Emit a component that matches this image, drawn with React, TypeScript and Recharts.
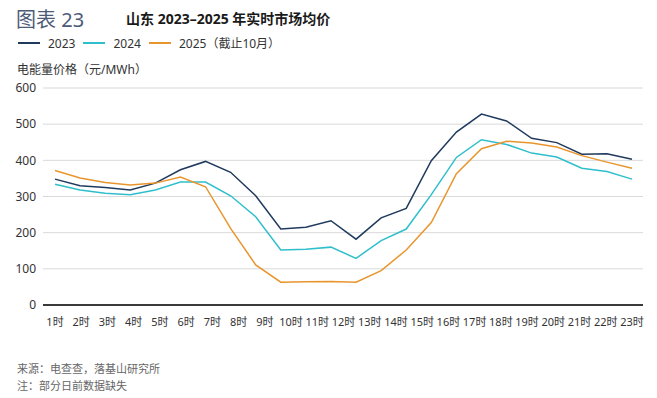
import { LineChart, Line, XAxis, YAxis, CartesianGrid } from "recharts";

const hourLabels = [
  "1时", "2时", "3时", "4时", "5时", "6时", "7时", "8时", "9时", "10时", "11时", "12时",
  "13时", "14时", "15时", "16时", "17时", "18时", "19时", "20时", "21时", "22时", "23时",
];

// 24 points per series (the chart only labels 23 hours)
const price2023 = [348, 330, 325, 318, 337, 374, 397, 367, 302, 210, 215, 233, 182, 241, 267, 399, 478, 528, 509, 461, 449, 417, 418, 403];
const price2024 = [334, 318, 309, 305, 318, 340, 340, 302, 244, 152, 154, 160, 129, 178, 210, 305, 408, 457, 444, 420, 409, 378, 369, 348];
const price2025 = [372, 351, 339, 332, 337, 354, 327, 212, 111, 63, 64, 65, 63, 95, 152, 228, 363, 432, 453, 448, 437, 413, 395, 378];

const yTicks = [0, 100, 200, 300, 400, 500, 600];

const data = price2023.map((v, i) => ({
  idx: i + 1,
  y2023: v,
  y2024: price2024[i],
  y2025: price2025[i],
}));

const n = price2023.length;
const xTicks = hourLabels.map((_, k) => 1 + (k * (n - 1)) / (hourLabels.length - 1));

const COLORS = { y2023: "#1f3a5e", y2024: "#2fbfcc", y2025: "#e8952e" };
const FONT = "'Noto Sans', 'Noto Sans CJK SC', sans-serif";

const legendItems = [
  { key: "y2023", label: "2023" },
  { key: "y2024", label: "2024" },
  { key: "y2025", label: "2025（截止10月）" },
];

export default function App() {
  return (
    <div style={{ position: "absolute", left: 0, top: 0, width: 657, height: 398, background: "#fff", fontFamily: FONT }}>
      <div style={{ position: "absolute", left: 16, top: 4, fontSize: 20, color: "#4d5b78", whiteSpace: "nowrap" }}>图表 23</div>
      <div style={{ position: "absolute", left: 126, top: 8, fontSize: 14, fontWeight: 700, color: "#1a1a1a", whiteSpace: "nowrap" }}>
        山东 2023–2025 年实时市场均价
      </div>
      <div style={{ position: "absolute", left: 18, top: 34, display: "flex", alignItems: "center", fontSize: 12, color: "#333" }}>
        {legendItems.map((it) => (
          <div key={it.key} style={{ display: "flex", alignItems: "center", marginRight: 8 }}>
            <div style={{ width: 22, height: 2, background: COLORS[it.key as keyof typeof COLORS], marginRight: 8 }} />
            <span>{it.label}</span>
          </div>
        ))}
      </div>
      <div style={{ position: "absolute", left: 17, top: 60, fontSize: 12, color: "#333", whiteSpace: "nowrap" }}>电能量价格（元/MWh）</div>

      <div style={{ position: "absolute", left: 0, top: 0 }}>
        <LineChart width={657} height={398} data={data} margin={{ top: 88, right: 14, left: 10, bottom: 63 }}>
          <CartesianGrid vertical={false} stroke="#d9d9d9" />
          <XAxis
            dataKey="idx"
            type="number"
            domain={[1, n]}
            ticks={xTicks}
            interval={0}
            padding={{ left: 12, right: 11 }}
            tickFormatter={(v: number) => hourLabels[Math.round(((v - 1) * (hourLabels.length - 1)) / (n - 1))]}
            tick={{ fill: "#333", fontSize: 11, fontFamily: FONT }}
            tickLine={false}
            tickMargin={7}
            axisLine={{ stroke: "#3a3a3a", strokeWidth: 2 }}
            height={30}
          />
          <YAxis
            domain={[0, 600]}
            ticks={yTicks}
            width={33}
            tick={{ fill: "#333", fontSize: 12, fontFamily: FONT }}
            tickLine={false}
            tickMargin={1}
            axisLine={false}
          />
          <Line type="linear" dataKey="y2023" stroke={COLORS.y2023} strokeWidth={1.5} dot={false} isAnimationActive={false} />
          <Line type="linear" dataKey="y2024" stroke={COLORS.y2024} strokeWidth={1.5} dot={false} isAnimationActive={false} />
          <Line type="linear" dataKey="y2025" stroke={COLORS.y2025} strokeWidth={1.5} dot={false} isAnimationActive={false} />
        </LineChart>
      </div>

      <div style={{ position: "absolute", left: 17, top: 360, fontSize: 11, color: "#666", whiteSpace: "nowrap" }}>来源：电查查，落基山研究所</div>
      <div style={{ position: "absolute", left: 17, top: 377, fontSize: 11, color: "#666", whiteSpace: "nowrap" }}>注：部分日前数据缺失</div>
    </div>
  );
}
